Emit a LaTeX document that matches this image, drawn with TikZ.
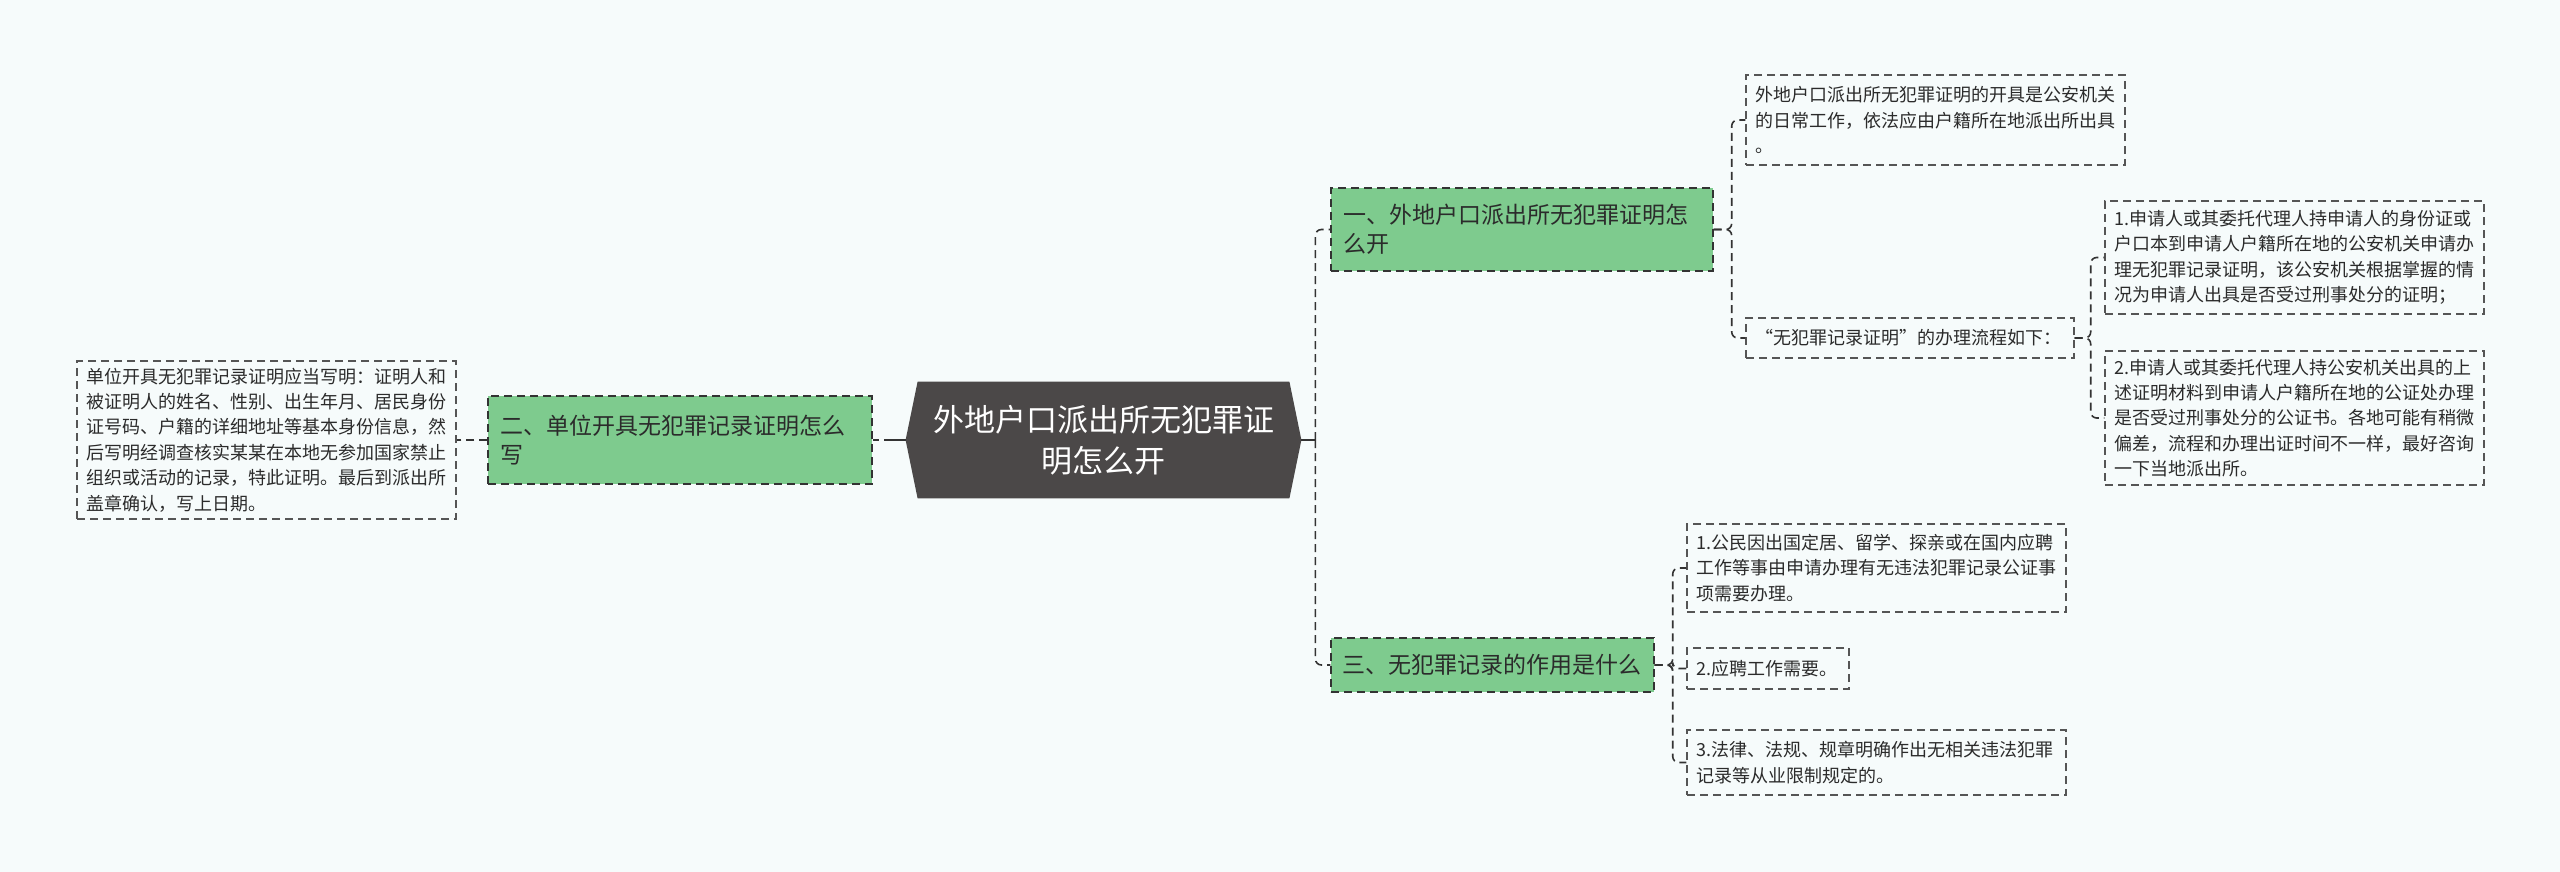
\documentclass[tikz,border=0pt]{standalone}
\usepackage{fontspec}
\newfontfamily\cjk{Noto Sans CJK SC}
\definecolor{bgcol}{HTML}{F6FBFB}
\definecolor{greenfill}{HTML}{7ECB8E}
\definecolor{rootfill}{HTML}{4B4848}
\definecolor{edgecol}{HTML}{333333}
\definecolor{leafedge}{HTML}{555555}
\definecolor{txt}{HTML}{2B2B2B}
\begin{document}
\begin{tikzpicture}[x=0.5pt,y=-0.5pt,
  dsh/.style={dash pattern=on 4pt off 2.5pt},
  leaf/.style={draw=leafedge, dsh, line width=0.7pt, text=txt,
    font=\cjk\fontsize{9}{12.7}\selectfont, align=left, inner xsep=4.5pt, inner ysep=0pt},
  topic/.style={draw=edgecol, fill=greenfill, dsh, line width=0.7pt, text=txt,
    font=\cjk\fontsize{11.5}{14.7}\selectfont, align=left, inner xsep=6pt, inner ysep=0pt},
  rootnode/.style={text=white, font=\cjk\fontsize{15.5}{20.5}\selectfont, align=center,
    inner sep=0pt, minimum width=197.5pt, minimum height=58pt},
  conn/.style={draw=edgecol, dsh, line width=0.8pt, rounded corners=3pt},
  rootconn/.style={draw=edgecol, line width=1pt}]
\fill[bgcol] (0,0) rectangle (2560,872);
\useasboundingbox (0,0) rectangle (2560,872);

% root
\node[rootnode] (root) at (1103.5,440) {};
\fill[rootfill] (root.west) -- ([xshift=6pt]root.north west) -- ([xshift=-6pt]root.north east)
  -- (root.east) -- ([xshift=-6pt]root.south east) -- ([xshift=6pt]root.south west) -- cycle;
\node[rootnode] (roottext) at (root.center) {外地户口派出所无犯罪证\\明怎么开};

% left branch
\node[topic, text width=180pt, minimum height=44pt] (L2) at (680,440)
  {二、单位开具无犯罪记录证明怎么\\写};
\node[leaf, text width=180.5pt, minimum height=79pt] (Lleaf) at (266.5,440)
  {单位开具无犯罪记录证明应当写明：证明人和\\被证明人的姓名、性别、出生年月、居民身份\\证号码、户籍的详细地址等基本身份信息，然\\后写明经调查核实某某在本地无参加国家禁止\\组织或活动的记录，特此证明。最后到派出所\\盖章确认，写上日期。};

% right branch 1
\node[topic, text width=179pt, minimum height=41.5pt] (R1) at (1522,229.5)
  {一、外地户口派出所无犯罪证明怎\\么开};
\node[leaf, text width=180.5pt, minimum height=45pt] (A) at (1935.5,120)
  {外地户口派出所无犯罪证明的开具是公安机关\\的日常工作，依法应由户籍所在地派出所出具\\。};
\node[leaf, text width=155pt, minimum height=20pt] (B) at (1910,338)
  {“无犯罪记录证明”的办理流程如下：};
\node[leaf, text width=180.5pt, minimum height=56.5pt] (C1) at (2294.5,257.5)
  {1.申请人或其委托代理人持申请人的身份证或\\户口本到申请人户籍所在地的公安机关申请办\\理无犯罪记录证明，该公安机关根据掌握的情\\况为申请人出具是否受过刑事处分的证明；};
\node[leaf, text width=180.5pt, minimum height=67pt] (C2) at (2294.5,418)
  {2.申请人或其委托代理人持公安机关出具的上\\述证明材料到申请人户籍所在地的公证处办理\\是否受过刑事处分的公证书。各地可能有稍微\\偏差，流程和办理出证时间不一样，最好咨询\\一下当地派出所。};

% right branch 3
\node[topic, text width=150pt, minimum height=27pt, inner xsep=5.75pt] (R3) at (1492.5,665)
  {三、无犯罪记录的作用是什么};
\node[leaf, text width=180.5pt, minimum height=44pt] (D1) at (1876.5,568)
  {1.公民因出国定居、留学、探亲或在国内应聘\\工作等事由申请办理有无违法犯罪记录公证事\\项需要办理。};
\node[leaf, text width=72pt, minimum height=20.5pt] (D2) at (1768,668.5)
  {2.应聘工作需要。};
\node[leaf, text width=180.5pt, minimum height=32.5pt] (D3) at (1876.5,762.5)
  {3.法律、法规、规章明确作出无相关违法犯罪\\记录等从业限制规定的。};

% connectors
\coordinate (jl) at ([xshift=-7pt]root.west);
\coordinate (jr) at ([xshift=7pt]root.east);
\draw[rootconn] (root.west) -- (jl);
\draw[conn] (jl) -- (L2.east);
\draw[conn] (L2.west) -- (Lleaf.east);
\draw[rootconn] (root.east) -- (jr);
\draw[conn] (jr) |- (R1.west);
\draw[conn] (jr) |- (R3.west);
\draw[conn] (R1.east) -- ++(18,0) |- (A.west);
\draw[conn] (R1.east) -- ++(18,0) |- (B.west);
\draw[conn] (B.east) -- ++(16,0) |- (C1.west);
\draw[conn] (B.east) -- ++(16,0) |- (C2.west);
\draw[conn] (R3.east) -- ++(18,0) |- (D1.west);
\draw[conn] (R3.east) -- ++(18,0) |- (D2.west);
\draw[conn] (R3.east) -- ++(18,0) |- (D3.west);
\end{tikzpicture}
\end{document}
